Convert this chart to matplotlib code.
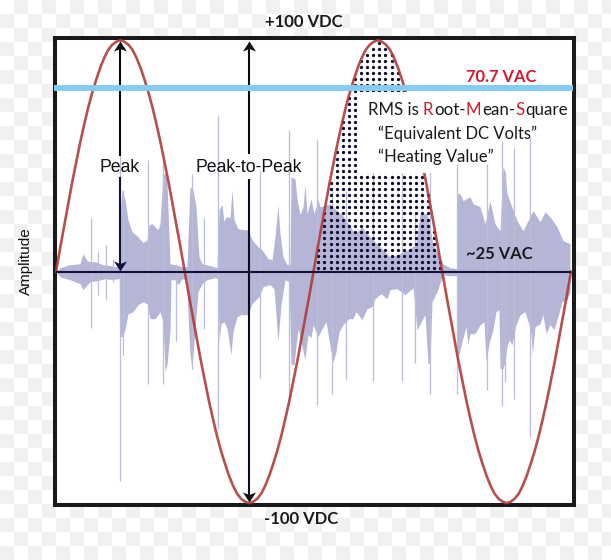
import numpy as np
import matplotlib
matplotlib.use('Agg')
import matplotlib.pyplot as plt
from matplotlib.patches import Rectangle

# sine trace (x axis is plain sample position, no ticks)
red_x = np.linspace(56, 571, 129)
red_rise = [0, 23, 45, 67, 89, 109, 129, 147, 164, 179, 192, 204, 214, 222, 227, 230,
            231.5, 230, 227, 222, 214, 204, 192, 179, 164, 147, 129, 109, 89, 67, 45, 23]
red_fall = [-v for v in red_rise]
red_amp = red_rise + red_fall + red_rise + red_fall + [0]

# audio waveform envelope, top half
upper_x = [56, 60, 70, 80, 83, 87, 90, 95, 103, 110, 116, 119.5, 120.7, 122, 125, 128, 132, 137, 143, 147,
           149, 152, 155, 158, 160, 163, 165, 167, 170, 175, 182, 187, 188, 190, 193, 196, 199, 202, 210, 217,
           219, 222, 224, 226, 230, 232, 234, 238, 243, 248, 252, 258, 262, 268, 272, 275, 278, 280, 283, 287,
           290, 291, 295, 297, 300, 303, 305, 307, 311, 314, 318, 320, 330, 337, 343, 355, 362, 367, 377, 390,
           400, 410, 416, 420, 427, 433, 443, 450, 457, 457.5, 460, 463, 470, 473, 480, 485, 490, 495, 500,
           503, 505, 507, 517, 523, 533, 540, 545, 550, 557, 563, 570]
upper_amp = [0, 4, 7, 8, 18, 11, 10, 10, 7, 6, 5, 5, 65, 82, 72, 52, 40, 36, 29, 32,
             47, 48, 45, 42, 48, 98, 98, 92, 8, 7, 5, 5, 35, 85, 82, 65, 15, 8, 6, 4,
             62, 67, 50, 55, 54, 82, 52, 43, 42, 42, 32, 25, 22, 13, 12, 35, 67, 38, 15, 7,
             7, 95, 93, 73, 57, 65, 87, 58, 73, 58, 72, 65, 68, 61, 56, 38, 45, 38, 28, 15,
             18, 23, 28, 58, 58, 28, 8, 4, 3, 78, 78, 71, 75, 68, 65, 48, 71, 48, 41,
             105, 100, 78, 51, 41, 61, 50, 60, 55, 45, 31, 28]

# same envelope, bottom half
lower_x = [56, 60, 70, 80, 83, 90, 97, 105, 113, 117, 119.3, 119.5, 122, 125, 128, 133, 138, 143, 147, 150,
           155, 158, 160, 163, 165, 167, 170, 171, 175, 178, 182, 187, 188, 190, 192, 195, 198, 202, 207, 215,
           218, 219, 221, 224, 227, 231, 233, 237, 241, 248, 252, 259, 263, 270, 274, 278, 281, 285, 289,
           291, 294, 298, 301, 305, 308, 311, 313, 318, 322, 326, 331, 333, 336, 339, 343, 349, 353, 356,
           362, 367, 372, 375, 381, 387, 390, 397, 405, 413, 417, 425, 428, 430, 432, 437, 443, 450, 457,
           457.5, 459, 462, 466, 468, 470, 475, 480, 484, 486, 489, 493, 496, 499, 500, 503, 505, 507, 509,
           512, 516, 520, 525, 529, 531, 532.3, 535, 540, 543, 546, 550, 554, 558, 562, 567, 570]
lower_amp = [0, 5, 8, 12, 18, 10, 9, 7, 8, 7, 7, 65, 65, 58, 42, 40, 33, 30, 32, 47,
             47, 43, 40, 50, 100, 93, 60, 8, 8, 13, 7, 8, 43, 83, 97, 57, 20, 12, 8, 6,
             7, 70, 52, 50, 57, 83, 60, 45, 43, 43, 32, 25, 15, 13, 17, 70, 33, 8, 10,
             93, 93, 57, 70, 88, 63, 66, 53, 65, 57, 50, 80, 90, 80, 60, 53, 47, 47, 40,
             48, 37, 35, 27, 22, 27, 18, 17, 23, 16, 58, 43, 92, 92, 30, 20, 3, 4, 4,
             83, 83, 70, 55, 73, 62, 62, 53, 50, 90, 72, 58, 40, 38, 97, 97, 90, 75, 68,
             73, 53, 43, 40, 53, 63, 83, 55, 52, 43, 62, 53, 58, 45, 30, 28, 20]
lower_amp = [-v for v in lower_amp]

# thin transients sticking out of the envelope
spike_x = [90.7, 97.7, 105.7, 113, 120, 123.3, 147.7, 163.3, 175.7, 191.7, 204, 218, 260, 289.3,
           316.7, 331.7, 345.7, 372.7, 402, 415.3, 430, 457.3, 487, 502, 505, 514, 529.8]
spike_top = [54, 21, 27, 13, 117, 82, 112, 110, 8, 98, 54, 156, 102, 142,
             132, 85, 81, 108, 108, 58, 115, 108, 108, 131, 100, 125, 135]
spike_bottom = [-56, -23, -27, -10, -209, -83, -112, -112, -69, -97, -57, -157, -106, -133,
                -133, -122, -107, -109, -109, -91, -122, -122, -118, -134, -110, -127, -165]

rms_parts = ['RMS is', 'R', 'oot-', 'M', 'ean-', 'S', 'quare']
rms_colors = ['#1a1a1a', '#d8192c', '#1a1a1a', '#d8192c', '#1a1a1a', '#d8192c', '#1a1a1a']

wave_color = '#b5b6d6'
navy = '#12123a'
head_up = [(0, 0), (6.5, -10), (0, -7.5), (-6.5, -10)]
head_down = [(0, 0), (6.5, 10), (0, 7.5), (-6.5, 10)]

fig = plt.figure(figsize=(6.11, 5.6), dpi=100)

# pale checker background of the source image
bg = fig.add_axes([0, 0, 1, 1], zorder=0)
rows, cols = np.indices((40, 44))
bg.imshow((rows + cols) % 2, cmap=matplotlib.colors.ListedColormap(['#ffffff', '#f1f1f1']),
          interpolation='nearest', extent=(0, 616, 560, 0), aspect='auto')
bg.set_xlim(0, 611)
bg.set_ylim(560, 0)
bg.axis('off')

ax = fig.add_axes([55 / 611, 1 - 505 / 560, 518.5 / 611, 467 / 560], zorder=1)
ax.set_xlim(55, 573.5)
ax.set_ylim(-233.3, 233.7)
ax.set_xticks([])
ax.set_yticks([])
for s in ax.spines.values():
    s.set_linewidth(2.9)
    s.set_color('#1a1a1a')

ax.fill_between(upper_x, 0, upper_amp, color=wave_color, lw=0, zorder=1)
ax.fill_between(lower_x, 0, lower_amp, color=wave_color, lw=0, zorder=1)
ax.vlines(spike_x, spike_bottom, spike_top, color='#bcbddb', lw=0.9, zorder=1.1)

# dot screen under the third lobe
gx, gy = np.meshgrid(379.3 + 6.1 * np.arange(-11, 11), 3.4 + 6.1 * np.arange(0, 38))
under = (gy < np.interp(gx, red_x, red_amp) - 1) & (gx > 313) & (gx < 443)
ax.scatter(gx[under], gy[under], s=5.5, color='#0a0a30', lw=0, zorder=2)

ax.plot(red_x, red_amp, color='#b03c3a', lw=1.9, alpha=0.9, zorder=3)

# white panel behind the RMS notes
ax.add_patch(Rectangle((358, 98.7), 74, 81, fc='white', ec='none', zorder=4))

ax.plot([57, 570], [0, 0], color=navy, lw=1.5, zorder=5)
ax.plot([54, 573], [184, 184], color='#85cdf0', lw=4.3, zorder=6, clip_on=False, solid_capstyle='butt')

# Peak arrow
ax.plot([120, 120], [225, 116.7], color='#0a0a0a', lw=1.5, zorder=5)
ax.plot([120, 120], [93.7, 8], color=navy, lw=1.5, zorder=5)
ax.plot([120], [230.7], marker=head_up, ms=14.4, color='#111111', mew=0, zorder=7)
ax.plot([120], [0.7], marker=head_down, ms=14.4, color=navy, mew=0, zorder=7)

# Peak-to-Peak arrow
ax.plot([248.7, 248.7], [225, 118.7], color='#0a0a0a', lw=1.5, zorder=5)
ax.plot([248.7, 248.7], [91.7, -225], color='#0a0a20', lw=1.5, zorder=5)
ax.plot([248.7], [230.7], marker=head_up, ms=14.4, color='#111111', mew=0, zorder=7)
ax.plot([248.7], [-230.3], marker=head_down, ms=14.4, color='#111111', mew=0, zorder=7)

bold = dict(family='Lato', weight='bold', ha='center', va='center', zorder=8)
ax.text(304, 249.7, '+100 VDC', fontsize=12, color='#1a1a1a', clip_on=False, **bold)
ax.text(301.5, -247.3, '-100 VDC', fontsize=12, color='#1a1a1a', clip_on=False, **bold)
ax.text(501, 195, '70.7 VAC', fontsize=11.9, color='#d8192c', **bold)
ax.text(499, 17.7, '~25 VAC', fontsize=11.9, color='#1a1a1a', **bold)

plain = dict(family='Liberation Sans', ha='center', va='center', fontsize=12.7, color='#111111', zorder=8)
ax.text(120, 104.7, 'Peak', **plain)
ax.text(248.7, 104.7, 'Peak-to-Peak', **plain)
ax.text(26, 10.7, 'Amplitude', family='Liberation Sans', fontsize=11, rotation=90, ha='center',
        va='center', color='#111111', clip_on=False)

notes = dict(family='Lato', fontsize=12, color='#1a1a1a', va='baseline', zorder=8)
ax.text(378, 133, '\u201cEquivalent DC Volts\u201d', **notes)
ax.text(378, 110, '\u201cHeating Value\u201d', **notes)

# the RMS line has coloured initials, so it is laid down piece by piece
renderer = fig.canvas.get_renderer()
inv = ax.transData.inverted()
cursor = 368
for part, col in zip(rms_parts, rms_colors):
    t = ax.text(cursor, 157, part, family='Lato', fontsize=12.2, color=col, va='baseline', zorder=8)
    ext = t.get_window_extent(renderer)
    cursor = inv.transform((ext.x1, ext.y0))[0] + 0.5
    if part == 'RMS is':
        cursor += 3.5

fig.savefig('out.png', dpi=100)
